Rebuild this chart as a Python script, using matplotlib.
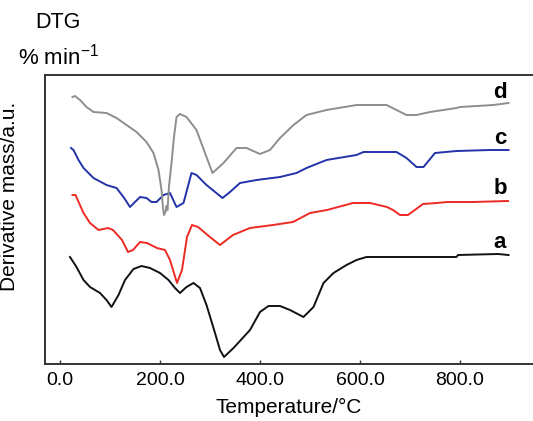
import matplotlib
matplotlib.use("Agg")
import matplotlib.pyplot as plt

plt.rcParams['font.family'] = ['Liberation Sans', 'DejaVu Sans']
plt.rcParams['mathtext.fontset'] = 'custom'
plt.rcParams['mathtext.rm'] = 'Liberation Sans'

# Temperature (°C) / derivative mass (a.u.)
a_T = [20, 33, 47, 60, 80, 93, 103, 117, 130, 147, 163, 180, 200, 217, 230, 240, 253, 267,
       280, 293, 310, 320, 328, 347, 380, 400, 417, 440, 460, 487, 507, 527, 547, 573, 593,
       613, 680, 793, 796, 876, 897]
a_y = [107, 97, 84, 77, 71, 64, 57, 69, 84, 95, 98, 96, 91, 84, 76, 71, 77, 81,
       76, 59, 31, 14, 7, 16, 34, 52, 58, 58, 54, 47, 57, 81, 91, 99, 104,
       107, 107, 107, 109, 110, 109]

b_T = [25, 31, 47, 60, 77, 96, 106, 124, 136, 146, 160, 174, 194, 210, 220, 234, 244, 254,
       264, 276, 300, 320, 346, 380, 426, 466, 500, 534, 586, 620, 654, 666, 680, 696, 726,
       754, 774, 826, 896]
b_y = [169, 169, 151, 141, 134, 136, 134, 124, 112, 114, 122, 121, 116, 114, 104, 81, 94, 127,
       139, 137, 127, 119, 129, 136, 139, 142, 151, 154, 161, 161, 157, 154, 149, 149, 160,
       161, 162, 162, 163]

c_T = [22, 27, 37, 47, 67, 93, 113, 127, 140, 160, 173, 183, 193, 207, 220, 233, 247, 263,
       273, 293, 325, 340, 360, 393, 440, 473, 493, 533, 593, 607, 673, 693, 713, 727, 750,
       793, 860, 897]
c_y = [216, 214, 204, 196, 186, 179, 176, 167, 157, 167, 166, 162, 162, 169, 171, 157, 161, 191,
       189, 179, 166, 172, 181, 184, 187, 191, 196, 204, 209, 212, 212, 206, 197, 197, 211,
       213, 214, 214]

d_T = [25, 30, 40, 53, 67, 93, 113, 133, 153, 173, 187, 197, 203, 206, 208, 211, 213, 215,
       218, 223, 228, 233, 240, 253, 273, 290, 305, 327, 353, 373, 400, 420, 440, 467, 493,
       533, 593, 653, 673, 693, 713, 740, 793, 800, 867, 897]
d_y = [267, 268, 264, 257, 252, 251, 246, 239, 232, 222, 211, 194, 174, 156, 149, 152, 158, 154,
       178, 201, 227, 247, 250, 247, 234, 211, 191, 201, 216, 216, 210, 214, 226, 239, 249,
       254, 259, 259, 254, 249, 249, 252, 256, 257, 259, 261]

series = [
    (a_T, a_y, '#111111', 'a', 122),
    (b_T, b_y, '#ee2a24', 'b', 175),
    (c_T, c_y, '#2233aa', 'c', 226),
    (d_T, d_y, '#8e8e8e', 'd', 272),
]
xticks = [0, 200, 400, 600, 800]
xtick_labels = ['0.0', '200.0', '400.0', '600.0', '800.0']

fig = plt.figure(figsize=(5.33, 4.21), dpi=100)
ax = fig.add_axes([45/533, 57/421, 488/533, 289/421])

for T, y, col, lab, ly in series:
    ax.plot(T, y, color=col, lw=1.4, solid_joinstyle='round')
    ax.text(880, ly, lab, fontsize=16, fontweight='bold', ha='center', va='center')

ax.set_xlim(-30, 946)
ax.set_ylim(0, 289)
ax.set_xticks(xticks)
ax.set_xticklabels(xtick_labels, fontsize=14)
ax.set_yticks([])
ax.tick_params(axis='x', direction='in', length=3, width=1, pad=6, color='#333333')
ax.spines['right'].set_visible(False)
for s in ['left', 'top', 'bottom']:
    ax.spines[s].set_linewidth(1.4)
    ax.spines[s].set_color('#333333')

ax.set_xlabel('Temperature/°C', fontsize=15, labelpad=6)
ax.set_ylabel('Derivative mass/a.u.', fontsize=15)
ax.yaxis.set_label_coords(-0.053, 0.58)

fig.text(58/533, 1 - 23/421, 'DTG', fontsize=15.5, ha='center', va='center')
fig.text(58/533, 1 - 57/421, '% min$^{-1}$', fontsize=16, ha='center', va='center')

fig.savefig('out.png', dpi=100)
